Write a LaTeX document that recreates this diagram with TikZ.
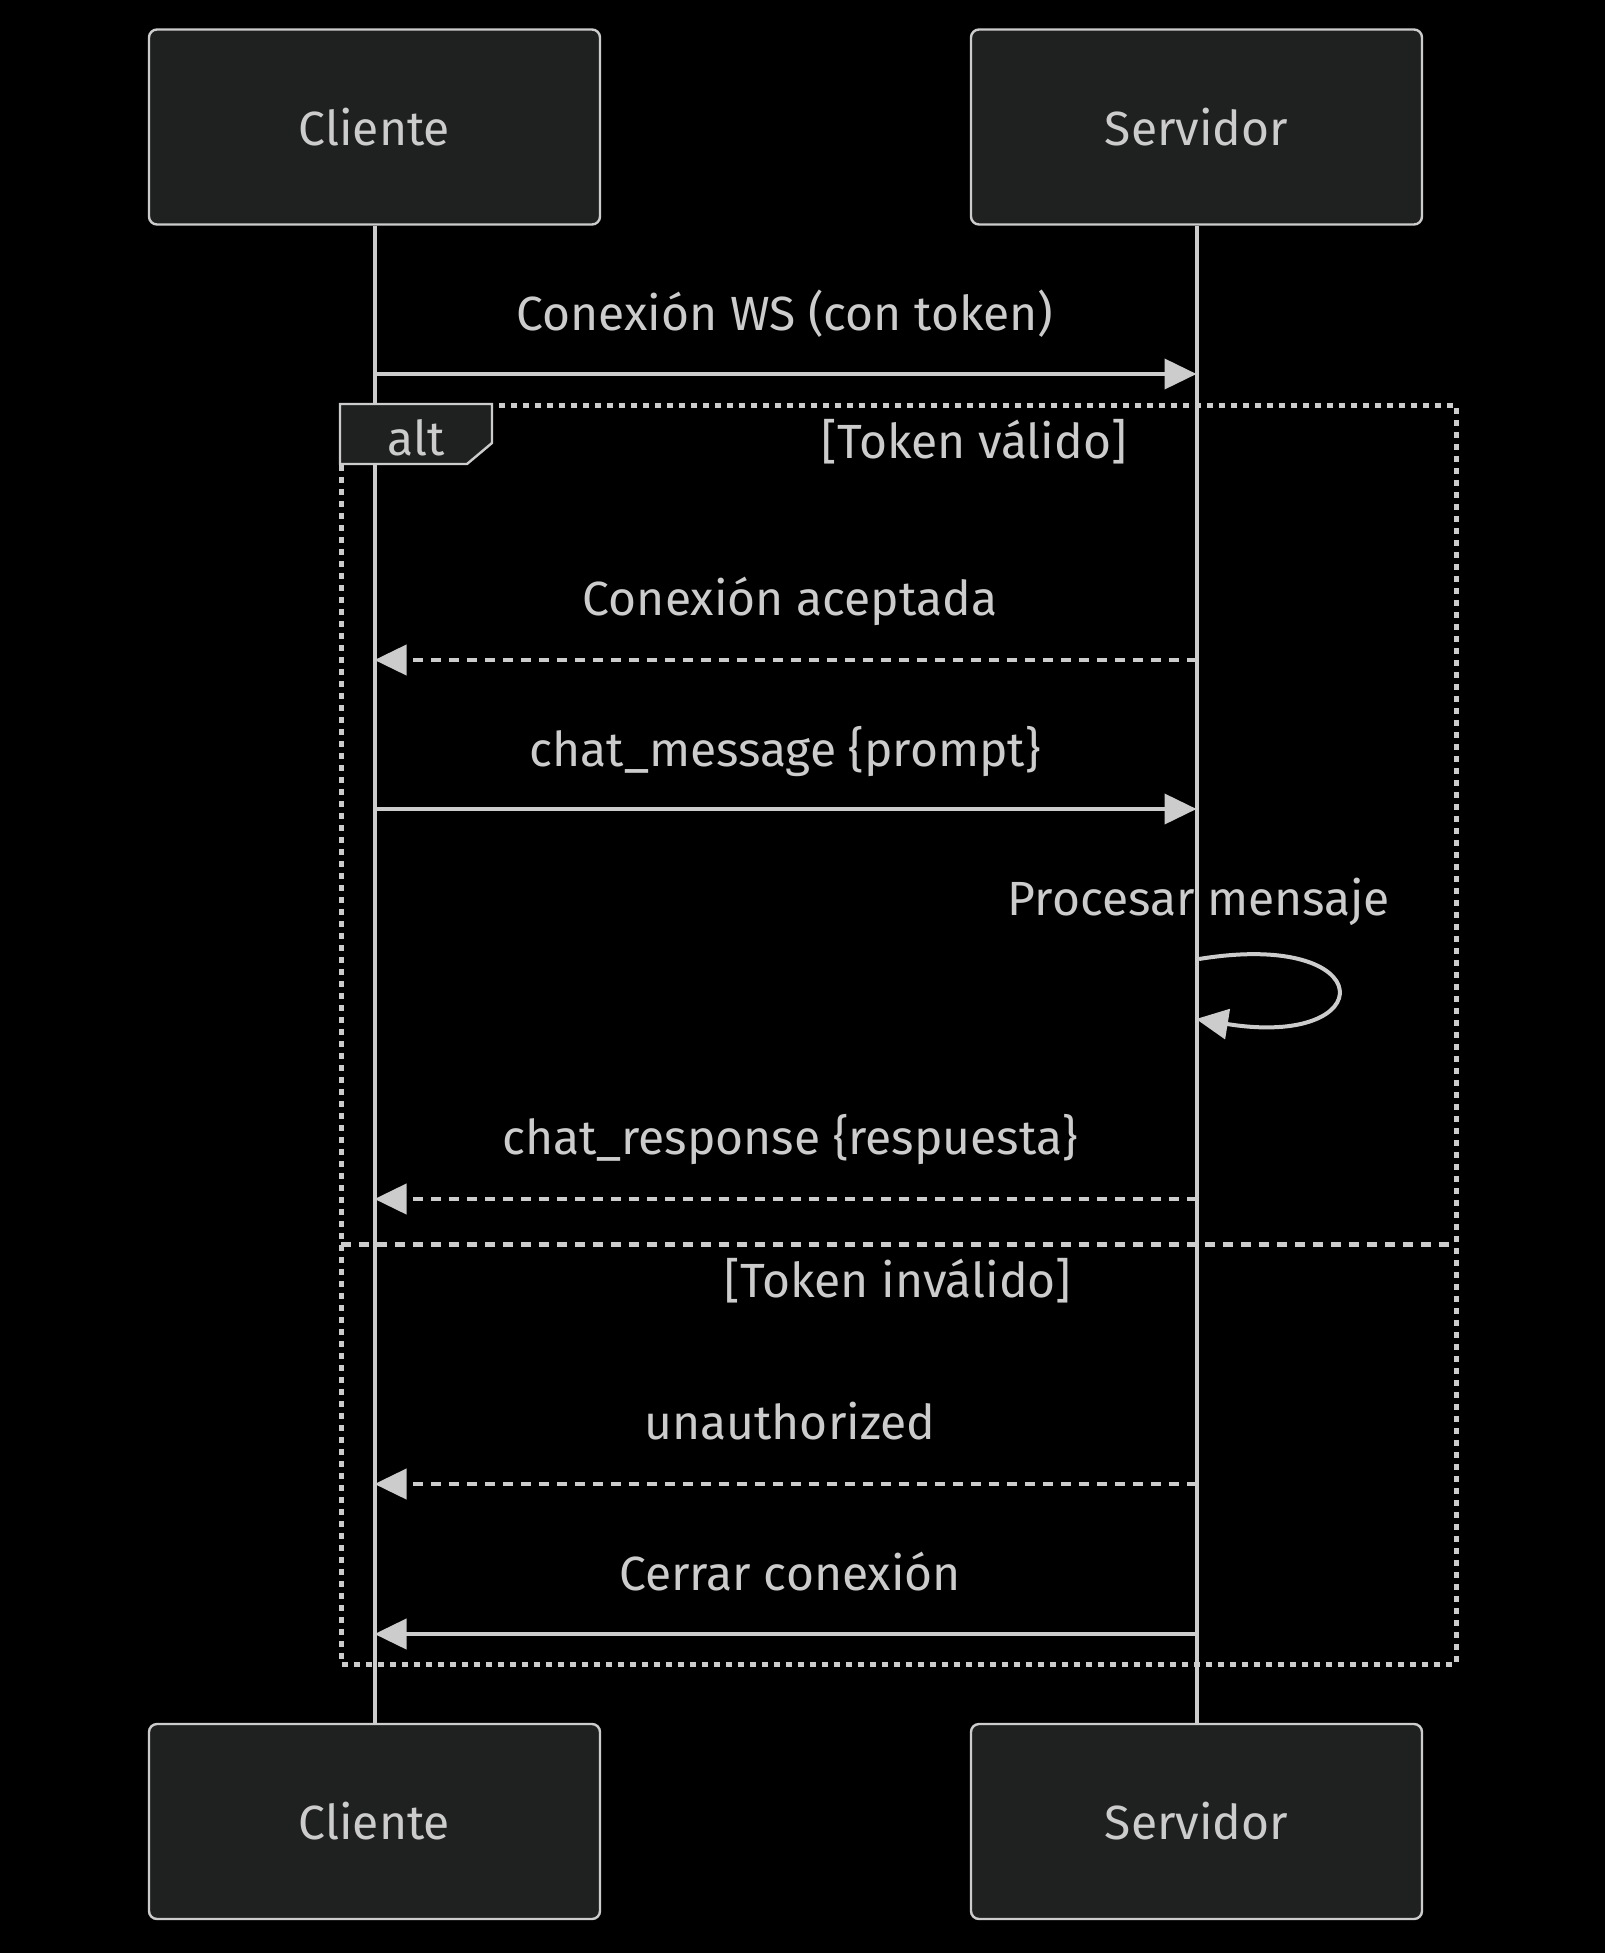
\documentclass[tikz,border=0pt]{standalone}
\usepackage{fontspec}
\setmainfont{Fira Sans}
\usetikzlibrary{arrows.meta}

\definecolor{fg}{HTML}{CCCCCC}
\definecolor{boxfill}{HTML}{1F2020}

\begin{document}
\begin{tikzpicture}[x=0.5pt,y=-0.5pt,
    actor/.style={draw=fg,line width=1.2pt,fill=boxfill,rounded corners=4pt,
        minimum width=225.5pt,minimum height=97.5pt,text=fg,
        font=\fontsize{24}{29}\selectfont},
    lbl/.style={text=fg,anchor=base,inner sep=0pt,font=\fontsize{24}{29}\selectfont},
    life/.style={draw=fg,line width=2pt},
    msg/.style={draw=fg,line width=2pt,-{Triangle[length=16pt,width=15pt]}},
    reply/.style={msg,dash pattern=on 5pt off 4pt},
    altbox/.style={draw=fg,line width=2.5pt,dash pattern=on 3pt off 3pt},
    divider/.style={draw=fg,line width=2.5pt,dash pattern=on 5pt off 4pt},
    tab/.style={draw=fg,line width=1.2pt,fill=boxfill}]

\useasboundingbox (0,0) rectangle (1605,1953);
\fill[black] (0,0) rectangle (1605,1953);

\node[actor] (cli_top) at (374.5,127) {Cliente};
\node[actor] (srv_top) at (1196.5,127) {Servidor};
\node[actor] (cli_bot) at (374.5,1821.5) {Cliente};
\node[actor] (srv_bot) at (1196.5,1821.5) {Servidor};

\node[lbl] (self) at (1199,915) {Procesar mensaje};

\draw[life] (cli_top) -- (cli_bot);
\draw[life] (srv_top) -- (srv_bot);

% alt frame
\draw[altbox] (341,405) rectangle (1456,1664);
\draw[divider] (341,1244) -- (1456,1244);
\draw[tab] (340,404) -- (492,404) -- (492,443) -- (467,464) -- (340,464) -- cycle;
\node[lbl] (alt) at (416,455) {alt};
\node[lbl] (valid) at (974,458) {[Token válido]};
\node[lbl] (invalid) at (898,1297) {[Token inválido]};

% message ends
\foreach \n/\y in {1/374,2/660,3/809,4/1199,5/1484,6/1634}{
    \coordinate (c\n) at (374.5,\y);
    \coordinate (s\n) at (1196.5,\y);
}
\coordinate (p1) at (1199,959);
\coordinate (p2) at (1196,1019);

\node[lbl] (m1) at (785,330) {Conexión WS (con token)};
\node[lbl] (m2) at (790,615) {Conexión aceptada};
\node[lbl] (m3) at (785,766) {chat\_message \{prompt\}};
\node[lbl] (m4) at (790,1154) {chat\_response \{respuesta\}};
\node[lbl] (m5) at (790,1439) {unauthorized};
\node[lbl] (m6) at (790,1590) {Cerrar conexión};

\draw[msg] (c1) -- (s1);
\draw[reply] (s2) -- (c2);
\draw[msg] (c3) -- (s3);
\draw[msg] (p1) .. controls (1382,929) and (1382,1049) .. (p2);
\draw[reply] (s4) -- (c4);
\draw[reply] (s5) -- (c5);
\draw[msg] (s6) -- (c6);

\end{tikzpicture}
\end{document}
